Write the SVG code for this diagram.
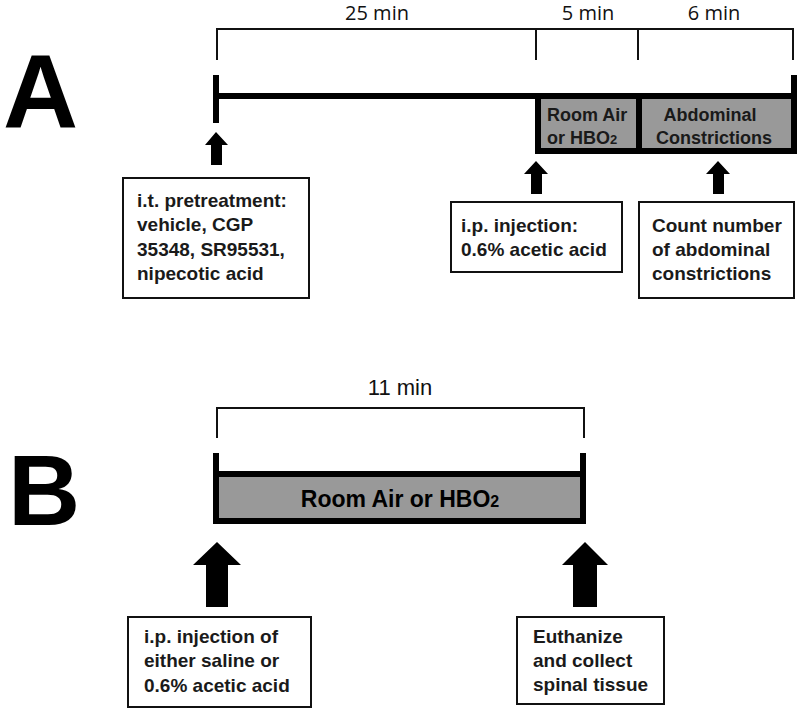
<svg xmlns="http://www.w3.org/2000/svg" width="800" height="713" viewBox="0 0 800 713">
<style>
.lbl{font-family:"Liberation Sans",Arial,sans-serif;font-weight:bold;fill:#000}
.t{font-family:"Liberation Sans",Arial,sans-serif;font-weight:bold;font-size:18px;fill:#1a1a1a}
.b{font-size:19px}
.min{font-family:"Open Sans","Liberation Sans",sans-serif;font-size:20px;fill:#111}
.br{fill:none;stroke:#111;stroke-width:2}
.thick{fill:none;stroke:#000;stroke-width:6}
.gray{fill:#999;stroke:#000;stroke-width:6}
.box{fill:#fff;stroke:#111;stroke-width:2}
.arrow{fill:#000}
</style>
<rect width="800" height="713" fill="#fff"/>

<g id="labelA"><text class="lbl" x="3" y="127" font-size="104">A</text></g>
<g id="labelB"><text class="lbl" x="8" y="525" font-size="100">B</text></g>

<g id="bracketA">
<path class="br" d="M217,60 V29 H793 V60 M536,29 V60 M638,29 V60"/>
<text class="min" x="377" y="20" text-anchor="middle">25 min</text>
<text class="min" x="588" y="20" text-anchor="middle">5 min</text>
<text class="min" x="714" y="20" text-anchor="middle">6 min</text>
</g>

<g id="timelineA">
<path class="thick" d="M216,75 V123 M216,96 H794 M794,75 V96"/>
<rect class="gray" x="538" y="96" width="256" height="55"/>
<line x1="639" y1="96" x2="639" y2="151" stroke="#000" stroke-width="6"/>
</g>
<g id="roomAirA">
<text class="t" x="547" y="121">Room Air</text>
<text class="t" x="547" y="144">or HBO<tspan font-size="13">2</tspan></text>
</g>
<g id="abdominal">
<text class="t" x="710" y="121" text-anchor="middle">Abdominal</text>
<text class="t" x="714" y="144" text-anchor="middle">Constrictions</text>
</g>

<g id="connectors">
<polygon class="arrow" points="216,132 228,145 222,145 222,165 211,165 211,145 205,145"/>
<polygon class="arrow" points="536,161 548,174 542,174 542,194 531,194 531,174 524,174"/>
<polygon class="arrow" points="718,161 730,174 724,174 724,194 713,194 713,174 706,174"/>
<polygon class="arrow" points="217,542 241,565 228,565 228,607 206,607 206,565 193,565"/>
<polygon class="arrow" points="585,542 608,565 597,565 597,607 573,607 573,565 562,565"/>
</g>

<g id="boxPretreat">
<rect class="box" x="123" y="178" width="186" height="120"/>
<text class="t b" x="137" y="207">i.t. pretreatment:</text>
<text class="t b" x="137" y="231">vehicle, CGP</text>
<text class="t b" x="137" y="256">35348, SR95531,</text>
<text class="t b" x="137" y="280">nipecotic acid</text>
</g>
<g id="boxInjectionA">
<rect class="box" x="451" y="202" width="171" height="70"/>
<text class="t b" x="461" y="232">i.p. injection:</text>
<text class="t b" x="461" y="256">0.6% acetic acid</text>
</g>
<g id="boxCount">
<rect class="box" x="639" y="202" width="155" height="96"/>
<text class="t b" x="652" y="232">Count number</text>
<text class="t b" x="652" y="256">of abdominal</text>
<text class="t b" x="652" y="280">constrictions</text>
</g>

<g id="bracketB">
<path class="br" d="M217,438 V408 H584 V438"/>
<text x="400" y="395" text-anchor="middle" font-family="Liberation Sans, Arial, sans-serif" font-size="22" fill="#111">11 min</text>
</g>
<g id="timelineB">
<rect class="gray" x="216" y="474" width="367" height="47"/>
<path class="thick" d="M216,453 V524 M583,453 V524"/>
<text class="lbl" x="400" y="507" font-size="23" text-anchor="middle" fill="#1a1a1a">Room Air or HBO<tspan font-size="16">2</tspan></text>
</g>

<g id="boxInjectionB">
<rect class="box" x="128" y="617" width="183" height="90"/>
<text class="t b" x="144" y="643">i.p. injection of</text>
<text class="t b" x="144" y="667">either saline or</text>
<text class="t b" x="144" y="692">0.6% acetic acid</text>
</g>
<g id="boxEuthanize">
<rect class="box" x="517" y="617" width="147" height="87"/>
<text class="t b" x="533" y="643">Euthanize</text>
<text class="t b" x="533" y="667">and collect</text>
<text class="t b" x="533" y="691">spinal tissue</text>
</g>
</svg>
